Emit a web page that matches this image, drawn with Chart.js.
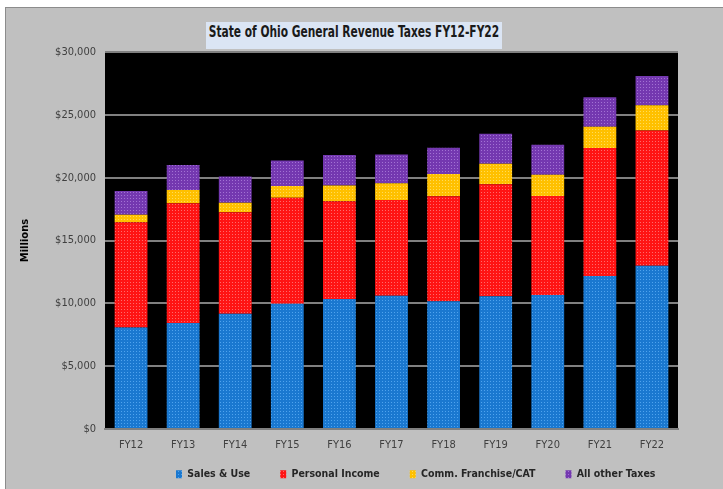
<!DOCTYPE html>
<html>
<head>
<meta charset="utf-8">
<script src="https://cdn.jsdelivr.net/npm/chart.js@4.4.0/dist/chart.umd.min.js"></script>
<style>
  body { margin: 0; background: #fff; }
  #frame {
    position: absolute; left: 5px; top: 7px; width: 718px; height: 482px;
    background: #c0c0c0; border-top: 1px solid #8c8c8c; border-left: 1px solid #8c8c8c;
  }
  #revChart { position: absolute; left: 0; top: 0; }
  #title {
    position: absolute; left: 200px; top: 14px; width: 296px; height: 27px;
    background: #dbe5f4; color: #1a1a1a; line-height: 27px;
    font: bold 16px 'Liberation Sans Narrow', 'DejaVu Sans Condensed', sans-serif;
    white-space: nowrap;
  }
  #title span {
    position: absolute; left: 50%; top: 0;
    transform: translateX(-50%) scaleX(0.74);
  }
</style>
</head>
<body>
<div id="frame">
  <canvas id="revChart" width="717" height="481"></canvas>
  <div id="title"><span>State of Ohio General Revenue Taxes FY12-FY22</span></div>
</div>
<script>
const categories = ['FY12', 'FY13', 'FY14', 'FY15', 'FY16', 'FY17', 'FY18', 'FY19', 'FY20', 'FY21', 'FY22'];
const salesUse = [8070, 8440, 9180, 9970, 10340, 10610, 10160, 10560, 10660, 12170, 12990];
const personalIncome = [8380, 9520, 8070, 8440, 7780, 7620, 8360, 8910, 7880, 10190, 10770];
const commFranchise = [590, 1060, 750, 930, 1250, 1320, 1770, 1640, 1700, 1690, 2010];
const otherTaxes = [1900, 1980, 2100, 2030, 2430, 2300, 2090, 2380, 2380, 2350, 2330];
const yMax = 30000;
const yStep = 5000;

const narrow = "'Liberation Sans Narrow', 'DejaVu Sans Condensed', sans-serif";

// dotted fill like the excel texture
function dotted(base, dot) {
    const c = document.createElement('canvas');
    c.width = 3; c.height = 3;
    const x = c.getContext('2d');
    x.fillStyle = base;
    x.fillRect(0, 0, 3, 3);
    x.fillStyle = dot;
    x.fillRect(1, 1, 1, 1);
    return x.createPattern(c, 'repeat');
}

// black plot area + move the legend where the original has it
const plotBg = {
    id: 'plotBg',
    beforeDraw(chart) {
        const a = chart.chartArea;
        const ctx = chart.ctx;
        ctx.save();
        ctx.fillStyle = '#000';
        ctx.fillRect(a.left, a.top, a.right - a.left, a.bottom - a.top);
        ctx.restore();
        const lg = chart.legend;
        const pad = lg.options.labels.padding;
        lg.left = 170 - pad;
        lg.right = chart.width;
        lg.top = 461 - pad;
    }
};

Chart.defaults.font.family = narrow;

const ctx = document.getElementById('revChart').getContext('2d');
new Chart(ctx, {
    type: 'bar',
    data: {
        labels: categories,
        datasets: [
            { label: 'Sales & Use', data: salesUse, backgroundColor: dotted('#1a78d0', '#4fa3ee'), borderColor: '#1a78d0', borderWidth: 0 },
            { label: 'Personal Income', data: personalIncome, backgroundColor: dotted('#ff1414', '#ff6a6a'), borderColor: '#ff1414', borderWidth: 0 },
            { label: 'Comm. Franchise/CAT', data: commFranchise, backgroundColor: dotted('#ffc000', '#ffdc5a'), borderColor: '#ffc000', borderWidth: 0 },
            { label: 'All other Taxes', data: otherTaxes, backgroundColor: dotted('#7438b0', '#a272d4'), borderColor: '#7438b0', borderWidth: 0 }
        ]
    },
    options: {
        responsive: false,
        animation: false,
        devicePixelRatio: 1,
        layout: { padding: { left: 0, right: 45, top: 44, bottom: 0 } },
        datasets: { bar: { barPercentage: 0.63, categoryPercentage: 1.0 } },
        plugins: {
            tooltip: { enabled: false },
            legend: {
                position: 'bottom',
                align: 'start',
                maxHeight: 28,
                labels: {
                    boxWidth: 6,
                    boxHeight: 8,
                    padding: 30,
                    color: '#262626',
                    font: { family: narrow, size: 10.5, weight: 'bold' }
                }
            }
        },
        scales: {
            x: {
                stacked: true,
                grid: { display: false, drawTicks: false },
                border: { color: '#808080', width: 2 },
                ticks: { color: '#404040', padding: 10, font: { size: 11 } },
                afterFit(scale) { scale.height = 32; }
            },
            y: {
                stacked: true,
                min: 0,
                max: yMax,
                grid: { color: '#808080', lineWidth: 2, drawTicks: false },
                border: { display: false },
                ticks: {
                    stepSize: yStep,
                    color: '#404040',
                    padding: 9,
                    font: { size: 11 },
                    callback: v => '$' + v.toLocaleString('en-US')
                },
                title: {
                    display: true,
                    text: 'Millions',
                    color: '#000',
                    padding: { top: 13, bottom: 0 },
                    font: { family: "'DejaVu Sans', sans-serif", size: 10, weight: 'bold' }
                },
                afterFit(scale) { scale.width = 99; }
            }
        }
    },
    plugins: [plotBg]
});
</script>
</body>
</html>
